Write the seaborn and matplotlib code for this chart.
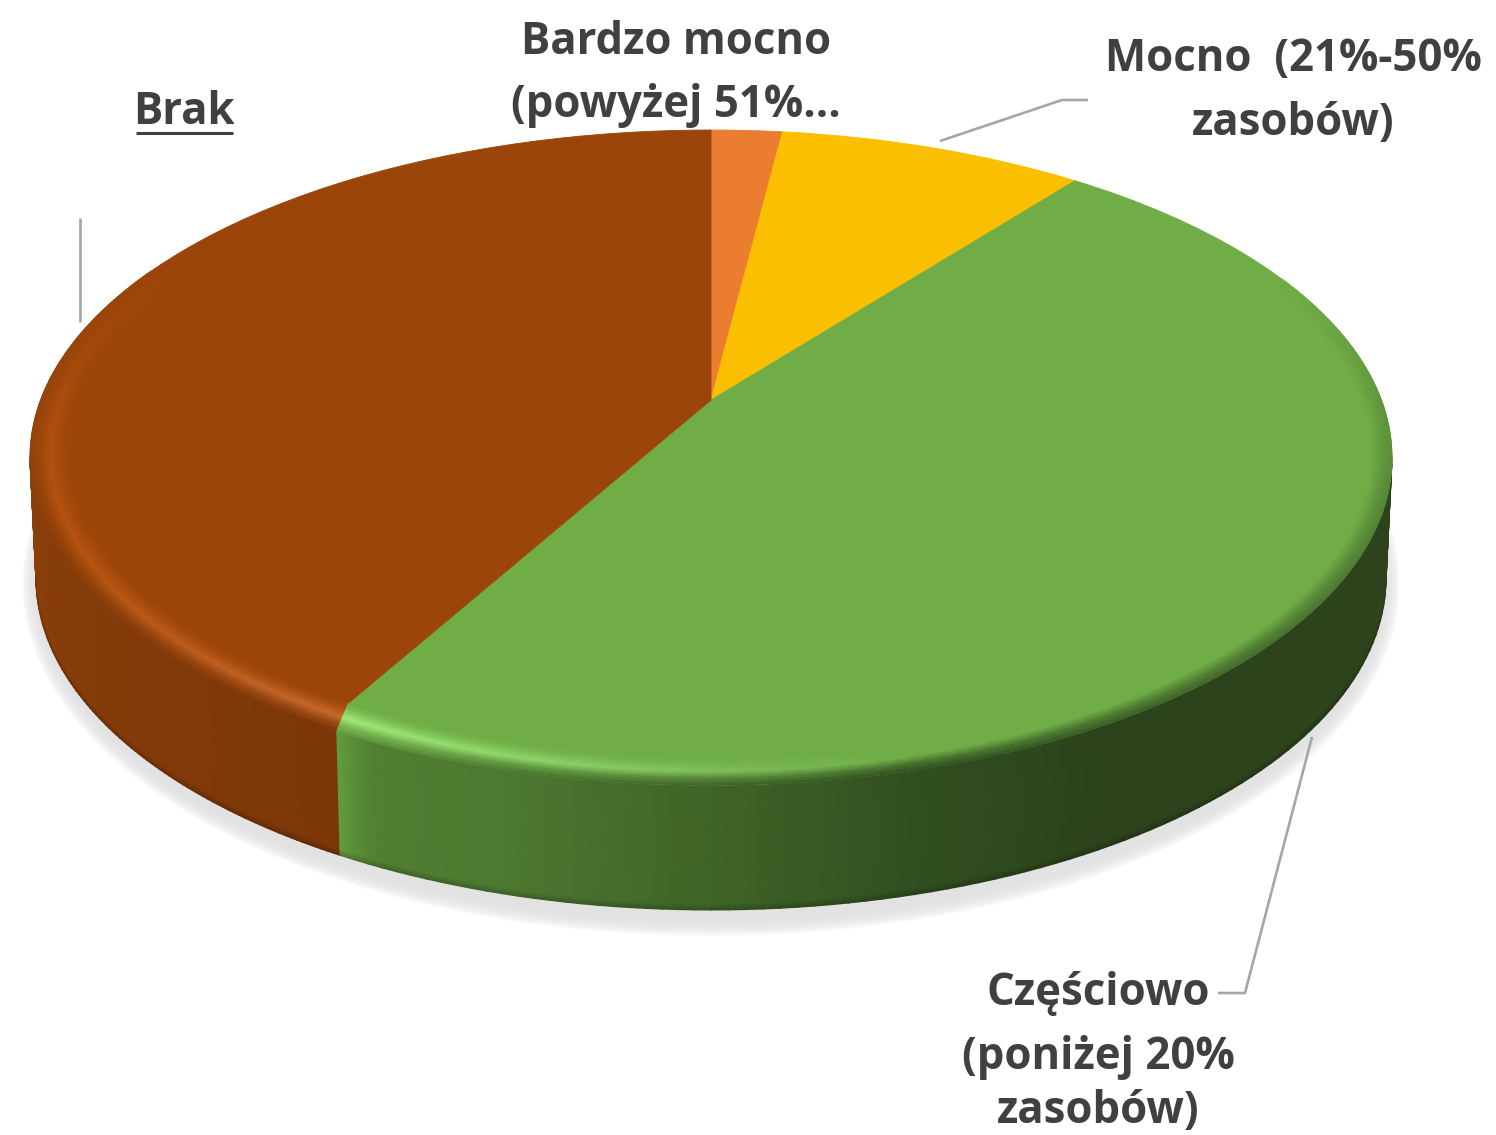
import numpy as np
import matplotlib
matplotlib.use('Agg')
import matplotlib.pyplot as plt
from matplotlib.colors import to_rgb
from matplotlib.transforms import Transform
import seaborn as sns

# Values (share of the pie, %)
categories = ['Bardzo mocno', 'Mocno', 'Częściowo', 'Brak']
values = [2.0, 8.6, 47.6, 41.8]
label_lines = {
    'Bardzo mocno': ['Bardzo mocno', '(powyżej 51%...'],
    'Mocno': ['Mocno  (21%-50%', 'zasobów)'],
    'Częściowo': ['Częściowo', '(poniżej 20%', 'zasobów)'],
    'Brak': ['Brak'],
}
slice_colors = ['#EB7D30', '#FBBF00', '#70AD47', '#9C450A']

sns.set_theme(style='white')
plt.rcParams['font.family'] = ['Open Sans', 'DejaVu Sans']

# Perspective of the disc, in picture pixels
CX, CY, A, B, K = 711.0, 400.0, 670.4, 317.4, 0.1756


def project(x, y):
    d = 1 + K * y
    return CX + A * x / d, CY - B * y / d


class Perspective(Transform):
    input_dims = output_dims = 2

    def transform_non_affine(self, values):
        px, py = project(values[:, 0], values[:, 1])
        return np.column_stack([px, py])


def polar(r, theta):
    t = np.radians(theta)
    return project(r * np.sin(t), r * np.cos(t))


def warp(theta):
    # the slice seam runs nearly straight down on the rim, not radially
    out = np.array(theta, dtype=float)
    m = (out > 180) & (out < 260)
    out[m] -= 1.5 * np.sin(np.radians(2.25 * (out[m] - 180)))
    return out


def ramp(theta, knots, hexes):
    rgb = np.array([to_rgb(h) for h in hexes])
    return np.column_stack([np.interp(theta, knots, rgb[:, i]) for i in range(3)])


def outer_rim(theta):
    return polar(1.0, warp(theta))


def bottom_rim(theta):
    ox, _ = outer_rim(theta)
    bx = CX + (ox - CX) * 675 / 681
    by = 578 + 332 * np.sqrt(np.clip(1 - ((bx - CX) / 675) ** 2, 0, 1))
    return bx, by


def draw_wall(ax, th0, th1, knots, hexes, z):
    theta = np.linspace(th0, th1, 90)
    ox, oy = outer_rim(theta)
    bx, by = bottom_rim(theta)
    s = np.array([0, 0.95, 1.0])[None, :]
    X = ox[:, None] + (bx - ox)[:, None] * s
    Y = oy[:, None] + (by - oy)[:, None] * s
    base = ramp(theta, knots, hexes)
    C = np.stack([base, base, base * 0.78], axis=1)
    ax.pcolormesh(X, Y, C, shading='gouraud', zorder=z)


def draw_bevel(ax, th0, th1, flat, knots, highlight, edge, z):
    theta = np.linspace(th0, th1, 120)
    ix, iy = polar(0.94, theta)
    ox, oy = outer_rim(theta)
    s = np.array([0, 0.22, 0.5, 0.75, 1.0])[None, :]
    X = ix[:, None] + (ox - ix)[:, None] * s
    Y = iy[:, None] + (oy - iy)[:, None] * s
    f = np.tile(to_rgb(flat), (len(theta), 1))
    h = ramp(theta, knots, highlight)
    e = ramp(theta, knots, edge)
    C = np.stack([f, f + (h - f) * 0.3, h, h + (e - h) * 0.6, e], axis=1)
    ax.pcolormesh(X, Y, C, shading='gouraud', zorder=z)


fig = plt.figure(figsize=(14.96, 11.35), dpi=100)
ax = fig.add_axes([0, 0, 1, 1])

# Soft shadow under the disc
t = np.linspace(0, 2 * np.pi, 300)
for d in np.linspace(21, 0, 21):
    ax.fill(CX + (668 + d) * np.cos(t), 584 + (331 + d) * np.sin(t),
            color='#E2E2E2', alpha=0.13, lw=0, zorder=1)

# Top face
wedges, _ = ax.pie(values, colors=slice_colors, startangle=90, counterclock=False,
                   radius=1, frame=True, wedgeprops={'linewidth': 0.6})
for w, c in zip(wedges, slice_colors):
    w.set_edgecolor(c)
    w.set_transform(Perspective() + ax.transData)
    w.set_zorder(3)

edges = np.cumsum(values) / np.sum(values) * 360
green_end = edges[2]
green, brown = slice_colors[2], slice_colors[3]

# Walls and the lit rim
brown_wall_k = [green_end, 225, 240, 260]
brown_wall = ['#7B3608', '#82390A', '#863C09', '#8C400A']
green_wall_k = [100, 150, 165, 180, 195, green_end - 3, green_end]
green_wall = ['#2C431C', '#2C431C', '#314F20', '#3F6427', '#4D7830', '#517F33', '#629C3D']
draw_wall(ax, green_end, 260, brown_wall_k, brown_wall, 2)
draw_wall(ax, 100, green_end, green_wall_k, green_wall, 2)

draw_bevel(ax, green_end, 296, brown,
           [green_end, 225, 245, 265, 296],
           ['#CB6A2E', '#BF5E1C', '#B6540F', '#B0500E', brown],
           ['#7B3608', '#82390A', '#863C09', '#94430B', brown], 4)
draw_bevel(ax, 66, green_end, green,
           [66, 165, 180, 195, green_end],
           [green, green, '#7FC15A', '#90DA6B', '#A2EB7A'],
           [green, '#314F20', '#3F6427', '#4D7830', '#629C3D'], 4)

# Leader lines
leader = dict(color='#A6A6A6', lw=1.9, solid_capstyle='butt', zorder=5)
ax.plot([80, 80], [218, 322], **leader)
ax.plot([940, 1062, 1088], [141, 100, 100], **leader)
ax.plot([1312, 1245, 1218], [737, 993, 993], **leader)

# Labels
txt = dict(color='#404040', fontweight='bold', fontsize=31.5, ha='center', va='center', zorder=6)
positions = {'Bardzo mocno': (676, [42, 106]),
             'Mocno': (1293, [60, 124]),
             'Częściowo': (1098, [993, 1057, 1112]),
             'Brak': (184, [112])}
for name in categories:
    x, ys = positions[name]
    for line, y in zip(label_lines[name], ys):
        ax.text(x, y, line, **txt)
ax.plot([136, 233], [133, 133], color='#404040', lw=2.2, solid_capstyle='butt', zorder=6)

ax.set_aspect('auto')
ax.set_xlim(0, 1496)
ax.set_ylim(1135, 0)
ax.axis('off')
fig.savefig('out.png', dpi=100)
